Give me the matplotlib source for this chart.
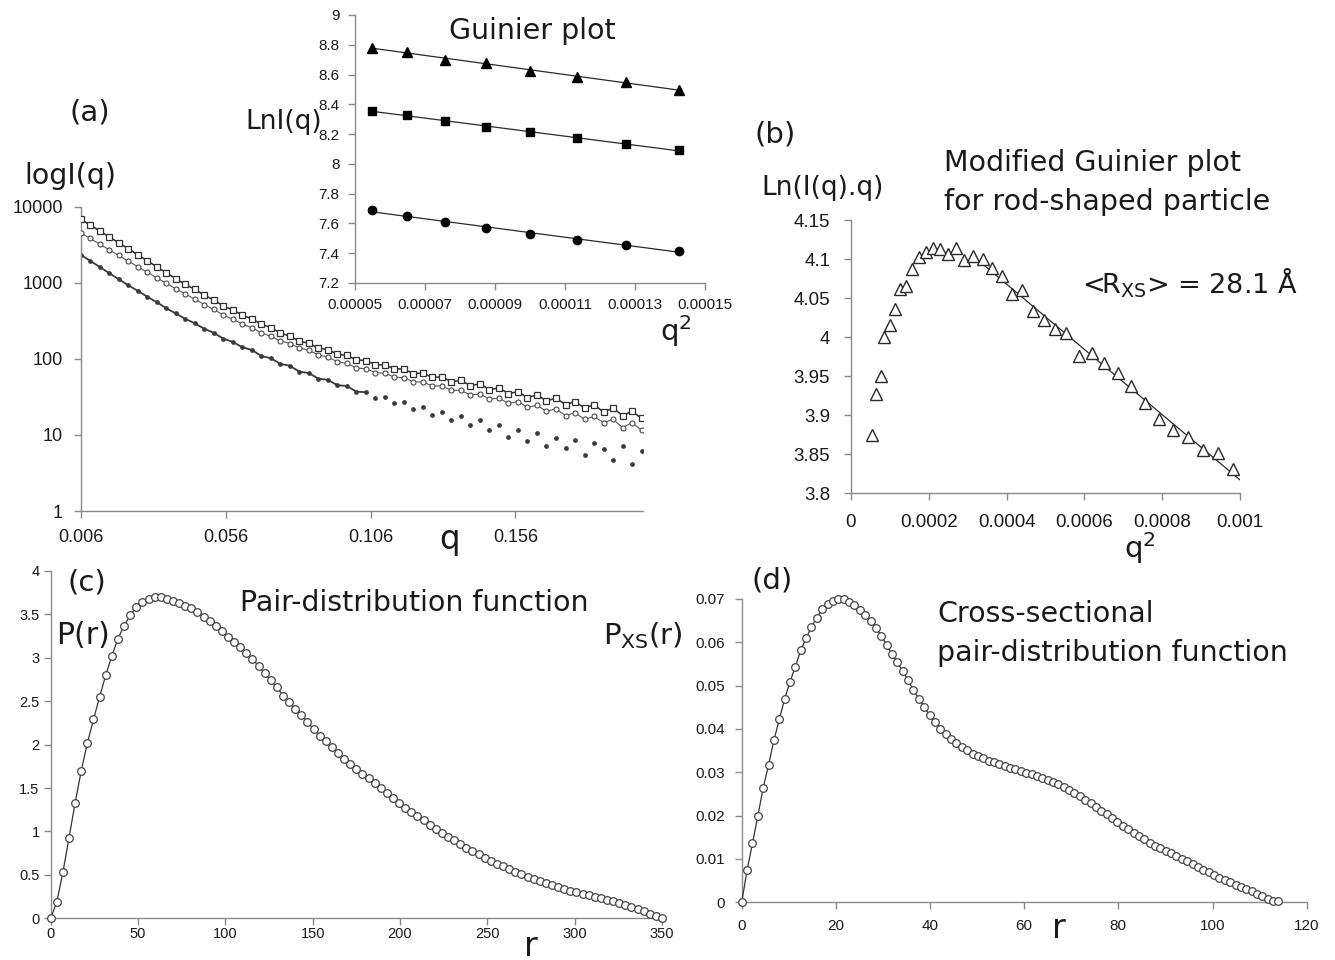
import numpy as np
import matplotlib
matplotlib.use("Agg")
import matplotlib.pyplot as plt
from matplotlib.ticker import NullLocator

plt.rcParams['font.family'] = ['Liberation Sans', 'DejaVu Sans']
plt.rcParams['mathtext.fontset'] = 'dejavusans'

# ---------------- data ----------------
# (a) SAXS curves, log I(q) vs q (three concentrations)
q_a = np.linspace(0.006, 0.1995, 60)
I_top = [6850, 5730, 4800, 4010, 3355, 2800, 2330, 1950, 1620, 1355,
         1130, 955, 818, 690, 592, 497, 438, 377, 335, 287,
         257, 220, 198, 171, 160, 139, 132, 115, 111, 97,
         95, 84, 83, 74, 73.5, 64, 65, 57, 58, 50,
         52, 44.5, 47, 39.5, 41.5, 35, 37, 31, 33.5, 28,
         30.5, 25, 27.5, 22.5, 25, 20, 22.5, 18, 20.5, 16.5]
I_mid = [4550, 3830, 3220, 2710, 2285, 1930, 1630, 1375, 1165, 985,
         835, 712, 610, 518, 446, 377, 332, 287, 256, 220,
         197, 173, 159, 140, 129, 113, 105, 92, 87, 76,
         74, 66, 64.5, 57.5, 56.5, 50, 49.5, 44, 44, 38.5,
         38.5, 33.5, 34.5, 29.5, 30.5, 26, 27.5, 23, 24.5, 20.5,
         22, 18, 19.5, 16, 17.5, 14.5, 16, 12.5, 14.5, 11.5]
I_bot = [2340, 1940, 1615, 1338, 1114, 927, 785, 655, 556, 463,
         395, 335, 294, 248, 220, 184, 167, 142, 131, 109,
         102, 86, 81, 68, 65, 55, 53, 45, 44, 37,
         36.5, 31, 31.5, 26, 27, 22, 23.5, 18.5, 20, 15.5,
         17.5, 13.5, 15.5, 11.5, 13.5, 9.5, 11.5, 8.3, 10.5, 7.2,
         9.2, 6.8, 8.6, 5.4, 7.9, 6.5, 4.7, 7.2, 4.2, 6.1]
a_xticks = [0.006, 0.056, 0.106, 0.156]
a_yticks = [1, 10, 100, 1000, 10000]

# inset: Guinier plot, ln I vs q^2
g_q2 = [5.48e-5, 6.49e-5, 7.57e-5, 8.74e-5, 9.99e-5, 11.33e-5, 12.75e-5, 14.27e-5]
g_tri = [8.781, 8.752, 8.698, 8.676, 8.627, 8.586, 8.548, 8.497]
g_sq = [8.356, 8.329, 8.291, 8.246, 8.213, 8.173, 8.132, 8.094]
g_circ = [7.690, 7.650, 7.610, 7.570, 7.529, 7.488, 7.458, 7.417]
g_xticks = [0.00005, 0.00007, 0.00009, 0.00011, 0.00013, 0.00015]
g_yticks = [7.2, 7.4, 7.6, 7.8, 8.0, 8.2, 8.4, 8.6, 8.8, 9.0]

# (b) modified Guinier plot for rod-shaped particle
b_q2 = [0.0000532, 0.0000642, 0.0000761, 0.0000853, 0.0000991, 0.0001128,
        0.0001266, 0.0001422, 0.0001578, 0.0001743, 0.0001927, 0.0002110,
        0.0002294, 0.0002495, 0.0002706, 0.0002908, 0.0003147, 0.0003394,
        0.0003624, 0.0003881, 0.0004128, 0.0004404, 0.0004679, 0.0004972,
        0.0005257, 0.0005532, 0.0005872, 0.0006193, 0.0006514, 0.0006853,
        0.0007202, 0.0007550, 0.0007917, 0.0008284, 0.0008651, 0.0009037,
        0.0009422, 0.0009826]
b_lnIq = [3.875, 3.927, 3.950, 4.000, 4.016, 4.036, 4.061, 4.066, 4.087, 4.102,
          4.109, 4.114, 4.113, 4.107, 4.114, 4.099, 4.104, 4.100, 4.088, 4.078,
          4.055, 4.060, 4.033, 4.022, 4.011, 4.005, 3.976, 3.980, 3.967, 3.954,
          3.937, 3.916, 3.895, 3.881, 3.872, 3.856, 3.852, 3.831]
b_fit_range = [0.00031, 0.001]
b_xticks = [0, 0.0002, 0.0004, 0.0006, 0.0008, 0.001]
b_yticks = [3.8, 3.85, 3.9, 3.95, 4.0, 4.05, 4.1, 4.15]

# (c) pair-distribution function P(r), r = 0..350
r_c = np.linspace(0, 350, 101)
P_c = [0.00, 0.19, 0.53, 0.93, 1.33, 1.70, 2.02, 2.29, 2.55, 2.80,
       3.02, 3.22, 3.37, 3.49, 3.58, 3.64, 3.68, 3.70, 3.695, 3.68,
       3.655, 3.63, 3.60, 3.57, 3.53, 3.47, 3.42, 3.365, 3.305, 3.24,
       3.18, 3.12, 3.06, 2.99, 2.905, 2.82, 2.74, 2.66, 2.565, 2.49,
       2.415, 2.345, 2.26, 2.18, 2.105, 2.04, 1.97, 1.905, 1.83, 1.775,
       1.725, 1.665, 1.615, 1.56, 1.50, 1.445, 1.385, 1.33, 1.275, 1.225,
       1.175, 1.13, 1.08, 1.03, 0.985, 0.94, 0.90, 0.855, 0.815, 0.775,
       0.735, 0.70, 0.665, 0.63, 0.60, 0.565, 0.535, 0.505, 0.48, 0.455,
       0.43, 0.405, 0.38, 0.36, 0.34, 0.32, 0.30, 0.28, 0.265, 0.25,
       0.235, 0.215, 0.195, 0.175, 0.155, 0.13, 0.105, 0.08, 0.055, 0.03,
       0.0]
c_xticks = [0, 50, 100, 150, 200, 250, 300, 350]
c_yticks = [0, 0.5, 1, 1.5, 2, 2.5, 3, 3.5, 4]

# (d) cross-sectional pair-distribution function Pxs(r), r = 0..114
r_d = np.linspace(0, 114, 101)
P_d = [0.0000, 0.0074, 0.0136, 0.0199, 0.0264, 0.0317, 0.0374, 0.0422, 0.0469, 0.0509,
       0.0544, 0.0582, 0.0609, 0.0636, 0.0657, 0.0676, 0.0688, 0.0695, 0.0699, 0.0699,
       0.0694, 0.0686, 0.0675, 0.0664, 0.0649, 0.0633, 0.0615, 0.0594, 0.0573, 0.0554,
       0.0533, 0.0512, 0.0490, 0.0470, 0.0451, 0.0432, 0.0416, 0.0401, 0.0388, 0.0377,
       0.0367, 0.0359, 0.0351, 0.0343, 0.0337, 0.0332, 0.0327, 0.0323, 0.0319, 0.0315,
       0.0311, 0.0307, 0.0303, 0.0299, 0.0295, 0.0291, 0.0287, 0.0283, 0.0278, 0.0273,
       0.0267, 0.0260, 0.0253, 0.0245, 0.0237, 0.0229, 0.0220, 0.0211, 0.0203, 0.0194,
       0.0186, 0.0177, 0.0169, 0.0160, 0.0152, 0.0145, 0.0138, 0.0131, 0.0125, 0.0119,
       0.0113, 0.0107, 0.0101, 0.0095, 0.0088, 0.0082, 0.0075, 0.0069, 0.0063, 0.0057,
       0.0052, 0.0046, 0.0041, 0.0036, 0.0031, 0.0025, 0.0020, 0.0014, 0.0008, 0.0004,
       0.0002]
d_xticks = [0, 20, 40, 60, 80, 100, 120]
d_yticks = [0, 0.01, 0.02, 0.03, 0.04, 0.05, 0.06, 0.07]

# ---------------- styling helpers ----------------
W, H = 1335, 960
SPINE = '#8a8a8a'
INK = '#1a1a1a'
BIG = 'DejaVu Sans'

fig = plt.figure(figsize=(W / 100, H / 100), dpi=100)
fig.patch.set_facecolor('white')


def rect(x0, y0, x1, y1):
    return [x0 / W, 1 - y1 / H, (x1 - x0) / W, (y1 - y0) / H]


def fmt(v):
    return f"{v:.6f}".rstrip('0').rstrip('.')


def style(ax, size, xpad, ypad, xt, yt, ylabels=None):
    for s in ['top', 'right']:
        ax.spines[s].set_visible(False)
    for s in ['left', 'bottom']:
        ax.spines[s].set_color(SPINE)
        ax.spines[s].set_linewidth(1.0)
    ax.set_xticks(xt)
    ax.set_xticklabels([fmt(v) for v in xt])
    ax.set_yticks(yt)
    ax.set_yticklabels(ylabels if ylabels else [fmt(v) for v in yt])
    ax.tick_params(direction='out', length=5, width=1.0, color=SPINE,
                   labelcolor=INK, labelsize=size)
    ax.tick_params(axis='x', pad=xpad)
    ax.tick_params(axis='y', pad=ypad)
    ax.set_facecolor('none')


def label(x, y, s, size, ha='center'):
    fig.text(x / W, 1 - y / H, s, ha=ha, va='center',
             fontsize=size, family=BIG, color=INK)


# ---------------- (a) ----------------
axa = fig.add_axes(rect(80.7, 206.7, 643, 511))
n_line_bot = 31
axa.plot(q_a[:n_line_bot], I_bot[:n_line_bot], '-', color='#3a3a3a', lw=1.3, zorder=2)
axa.plot(q_a, I_bot, linestyle='none', marker='o', ms=2.4,
         mfc='#3a3a3a', mec='#3a3a3a', zorder=2)
axa.plot(q_a, I_mid, '-', color='#5a5a5a', lw=0.8, marker='o', ms=3.6,
         mfc='white', mec='#4a4a4a', mew=0.8, zorder=3)
axa.plot(q_a, I_top, '-', color='#303030', lw=1.1, marker='s', ms=3.8,
         mfc='white', mec='#303030', mew=0.9, zorder=4)
axa.set_yscale('log')
axa.set_xlim(0.006, 0.2)
axa.set_ylim(1, 10000)
style(axa, 13, 8, 8, a_xticks, a_yticks, ['1', '10', '100', '1000', '10000'])
axa.yaxis.set_minor_locator(NullLocator())

# inset Guinier
axg = fig.add_axes(rect(355, 15, 705, 283))
for yv, mk, ms in [(g_tri, '^', 6.5), (g_sq, 's', 6.0), (g_circ, 'o', 6.0)]:
    coef = np.polyfit(g_q2, yv, 1)
    xs = np.array([g_q2[0], g_q2[-1]])
    axg.plot(xs, np.polyval(coef, xs), '-', color='#2a2a2a', lw=0.9, zorder=2)
    axg.plot(g_q2, yv, linestyle='none', marker=mk, ms=ms, color='black', zorder=3)
axg.set_xlim(0.00005, 0.00015)
axg.set_ylim(7.2, 9.0)
style(axg, 11, 6, 6, g_xticks, g_yticks)

label(90, 112, '(a)', 21)
label(70, 176, 'logI(q)', 20.5)
label(284, 122, 'LnI(q)', 19)
label(532, 31, 'Guinier plot', 20.5)
label(676, 331, 'q$^2$', 21)
label(450, 540, 'q', 23.5)

# ---------------- (b) ----------------
axb = fig.add_axes(rect(851, 220, 1240, 493.3))
mask = np.array(b_q2) >= 0.0003
coef_b = np.polyfit(np.array(b_q2)[mask], np.array(b_lnIq)[mask], 1)
xb = np.array(b_fit_range)
axb.plot(xb, np.polyval(coef_b, xb), '-', color='#2a2a2a', lw=0.9, zorder=2)
axb.plot(b_q2, b_lnIq, linestyle='none', marker='^', ms=9, mfc='white',
         mec='#2a2a2a', mew=1.0, zorder=3)
axb.set_xlim(0, 0.001)
axb.set_ylim(3.8, 4.15)
style(axb, 13.5, 10, 10, b_xticks, b_yticks)

label(775, 135, '(b)', 21)
label(823, 188, 'Ln(I(q).q)', 19)
label(944, 163, 'Modified Guinier plot', 20.5, ha='left')
label(944, 202, 'for rod-shaped particle', 20.5, ha='left')
label(1190, 283, r'<R$_{\mathrm{XS}}$> = 28.1 Å', 19.5)
label(1140, 548, 'q$^2$', 21)

# ---------------- (c) ----------------
axc = fig.add_axes(rect(50.7, 571, 662, 918.3))
axc.plot(r_c, P_c, '-', color='#333333', lw=0.9, marker='o', ms=5.5,
         mfc='white', mec='#444444', mew=0.9, zorder=3, clip_on=False)
axc.set_xlim(0, 350)
axc.set_ylim(0, 4)
style(axc, 10.5, 1.5, 3, c_xticks, c_yticks)

label(87, 582, '(c)', 21)
label(83, 635, 'P(r)', 21.5)
label(414, 603, 'Pair-distribution function', 20.5)
label(531, 946, 'r', 24)

# ---------------- (d) ----------------
axd = fig.add_axes(rect(741.7, 599, 1306.7, 902.3))
axd.plot(r_d, P_d, '-', color='#333333', lw=0.9, marker='o', ms=5.5,
         mfc='white', mec='#444444', mew=0.9, zorder=3, clip_on=False)
axd.set_xlim(0, 120)
axd.set_ylim(0, 0.07)
style(axd, 11, 7, 7, d_xticks, d_yticks)

label(772, 581, '(d)', 21)
label(643, 636, r'P$_{\mathrm{XS}}$(r)', 21)
label(937, 614, 'Cross-sectional', 20.5, ha='left')
label(937, 653, 'pair-distribution function', 20.5, ha='left')
label(1059, 929, 'r', 24)

fig.savefig('out.png', dpi=100, facecolor='white')
